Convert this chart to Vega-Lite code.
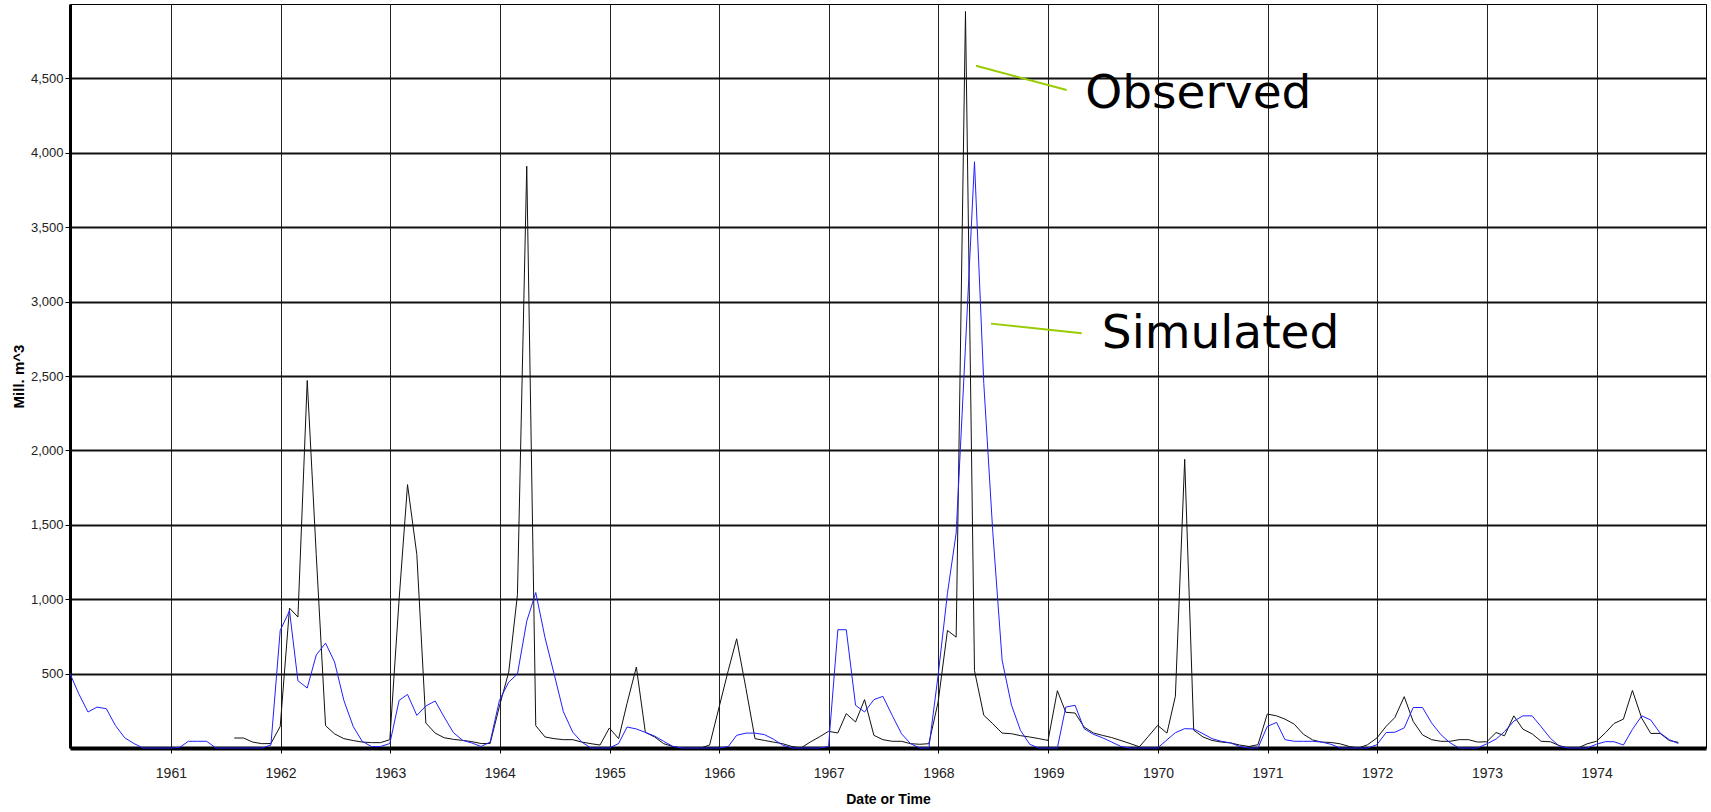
{
  "$schema": "https://vega.github.io/schema/vega-lite/v6.json",
  "width": 1636,
  "height": 744,
  "autosize": {"type": "none"},
  "padding": {"left": 70, "top": 4, "right": 5, "bottom": 64},
  "background": "white",
  "config": {
    "view": {"stroke": "#000", "strokeWidth": 1},
    "font": "Liberation Sans"
  },
  "layer": [
    {
      "data": {
        "values": [
          {"date": "1960-01-31", "Observed": null, "Simulated": 500},
          {"date": "1960-02-29", "Observed": null, "Simulated": 365},
          {"date": "1960-03-31", "Observed": null, "Simulated": 242},
          {"date": "1960-04-30", "Observed": null, "Simulated": 275},
          {"date": "1960-05-31", "Observed": null, "Simulated": 264},
          {"date": "1960-06-30", "Observed": null, "Simulated": 152},
          {"date": "1960-07-31", "Observed": null, "Simulated": 69},
          {"date": "1960-08-31", "Observed": null, "Simulated": 30},
          {"date": "1960-09-30", "Observed": null, "Simulated": 0},
          {"date": "1960-10-31", "Observed": null, "Simulated": 0},
          {"date": "1960-11-30", "Observed": null, "Simulated": 0},
          {"date": "1960-12-31", "Observed": null, "Simulated": 0},
          {"date": "1961-01-31", "Observed": null, "Simulated": 5},
          {"date": "1961-02-28", "Observed": null, "Simulated": 45},
          {"date": "1961-03-31", "Observed": null, "Simulated": 45},
          {"date": "1961-04-30", "Observed": null, "Simulated": 45},
          {"date": "1961-05-31", "Observed": null, "Simulated": 0},
          {"date": "1961-06-30", "Observed": null, "Simulated": 0},
          {"date": "1961-07-31", "Observed": 67, "Simulated": 0},
          {"date": "1961-08-31", "Observed": 67, "Simulated": 0},
          {"date": "1961-09-30", "Observed": 40, "Simulated": 0},
          {"date": "1961-10-31", "Observed": 29, "Simulated": 0},
          {"date": "1961-11-30", "Observed": 30, "Simulated": 20},
          {"date": "1961-12-31", "Observed": 145, "Simulated": 790},
          {"date": "1962-01-31", "Observed": 940, "Simulated": 922},
          {"date": "1962-02-28", "Observed": 880, "Simulated": 452},
          {"date": "1962-03-31", "Observed": 2470, "Simulated": 403},
          {"date": "1962-04-30", "Observed": 1300, "Simulated": 625},
          {"date": "1962-05-31", "Observed": 150, "Simulated": 705},
          {"date": "1962-06-30", "Observed": 95, "Simulated": 578},
          {"date": "1962-07-31", "Observed": 63, "Simulated": 320},
          {"date": "1962-08-31", "Observed": 50, "Simulated": 145},
          {"date": "1962-09-30", "Observed": 40, "Simulated": 45},
          {"date": "1962-10-31", "Observed": 36, "Simulated": 10},
          {"date": "1962-11-30", "Observed": 36, "Simulated": 10},
          {"date": "1962-12-31", "Observed": 56, "Simulated": 30},
          {"date": "1963-01-31", "Observed": 1000, "Simulated": 320},
          {"date": "1963-02-28", "Observed": 1770, "Simulated": 360},
          {"date": "1963-03-31", "Observed": 1300, "Simulated": 219},
          {"date": "1963-04-30", "Observed": 168, "Simulated": 282},
          {"date": "1963-05-31", "Observed": 100, "Simulated": 316},
          {"date": "1963-06-30", "Observed": 69, "Simulated": 208},
          {"date": "1963-07-31", "Observed": 58, "Simulated": 103},
          {"date": "1963-08-31", "Observed": 51, "Simulated": 51},
          {"date": "1963-09-30", "Observed": 43, "Simulated": 34},
          {"date": "1963-10-31", "Observed": 30, "Simulated": 10},
          {"date": "1963-11-30", "Observed": 30, "Simulated": 40},
          {"date": "1963-12-31", "Observed": 280, "Simulated": 320},
          {"date": "1964-01-31", "Observed": 510, "Simulated": 443},
          {"date": "1964-02-29", "Observed": 1030, "Simulated": 497},
          {"date": "1964-03-31", "Observed": 3910, "Simulated": 852},
          {"date": "1964-04-30", "Observed": 150, "Simulated": 1045},
          {"date": "1964-05-31", "Observed": 74, "Simulated": 740},
          {"date": "1964-06-30", "Observed": 63, "Simulated": 499},
          {"date": "1964-07-31", "Observed": 56, "Simulated": 244},
          {"date": "1964-08-31", "Observed": 56, "Simulated": 107},
          {"date": "1964-09-30", "Observed": 40, "Simulated": 40},
          {"date": "1964-10-31", "Observed": 29, "Simulated": 0},
          {"date": "1964-11-30", "Observed": 20, "Simulated": 0},
          {"date": "1964-12-31", "Observed": 134, "Simulated": 0},
          {"date": "1965-01-31", "Observed": 63, "Simulated": 30},
          {"date": "1965-02-28", "Observed": 300, "Simulated": 141},
          {"date": "1965-03-31", "Observed": 544, "Simulated": 128},
          {"date": "1965-04-30", "Observed": 105, "Simulated": 105},
          {"date": "1965-05-31", "Observed": 74, "Simulated": 80},
          {"date": "1965-06-30", "Observed": 29, "Simulated": 45},
          {"date": "1965-07-31", "Observed": 10, "Simulated": 10},
          {"date": "1965-08-31", "Observed": 0, "Simulated": 0},
          {"date": "1965-09-30", "Observed": 0, "Simulated": 0},
          {"date": "1965-10-31", "Observed": 0, "Simulated": 0},
          {"date": "1965-11-30", "Observed": 20, "Simulated": 0},
          {"date": "1965-12-31", "Observed": 270, "Simulated": 0},
          {"date": "1966-01-31", "Observed": 520, "Simulated": 10},
          {"date": "1966-02-28", "Observed": 734, "Simulated": 85},
          {"date": "1966-03-31", "Observed": 400, "Simulated": 100},
          {"date": "1966-04-30", "Observed": 63, "Simulated": 100},
          {"date": "1966-05-31", "Observed": 51, "Simulated": 90},
          {"date": "1966-06-30", "Observed": 40, "Simulated": 60},
          {"date": "1966-07-31", "Observed": 29, "Simulated": 20},
          {"date": "1966-08-31", "Observed": 10, "Simulated": 0},
          {"date": "1966-09-30", "Observed": 0, "Simulated": 0},
          {"date": "1966-10-31", "Observed": 40, "Simulated": 0},
          {"date": "1966-11-30", "Observed": 74, "Simulated": 0},
          {"date": "1966-12-31", "Observed": 112, "Simulated": 10},
          {"date": "1967-01-31", "Observed": 101, "Simulated": 795},
          {"date": "1967-02-28", "Observed": 231, "Simulated": 795},
          {"date": "1967-03-31", "Observed": 175, "Simulated": 287},
          {"date": "1967-04-30", "Observed": 325, "Simulated": 242},
          {"date": "1967-05-31", "Observed": 85, "Simulated": 325},
          {"date": "1967-06-30", "Observed": 56, "Simulated": 347},
          {"date": "1967-07-31", "Observed": 45, "Simulated": 219},
          {"date": "1967-08-31", "Observed": 45, "Simulated": 96},
          {"date": "1967-09-30", "Observed": 29, "Simulated": 29},
          {"date": "1967-10-31", "Observed": 25, "Simulated": 0},
          {"date": "1967-11-30", "Observed": 29, "Simulated": 0},
          {"date": "1967-12-31", "Observed": 310, "Simulated": 490},
          {"date": "1968-01-31", "Observed": 790, "Simulated": 1040},
          {"date": "1968-02-29", "Observed": 745, "Simulated": 1445},
          {"date": "1968-03-31", "Observed": 4950, "Simulated": 2700},
          {"date": "1968-04-30", "Observed": 520, "Simulated": 3940},
          {"date": "1968-05-31", "Observed": 220, "Simulated": 2450},
          {"date": "1968-06-30", "Observed": 163, "Simulated": 1450},
          {"date": "1968-07-31", "Observed": 100, "Simulated": 590},
          {"date": "1968-08-31", "Observed": 96, "Simulated": 290},
          {"date": "1968-09-30", "Observed": 83, "Simulated": 119},
          {"date": "1968-10-31", "Observed": 74, "Simulated": 25},
          {"date": "1968-11-30", "Observed": 63, "Simulated": 0},
          {"date": "1968-12-31", "Observed": 51, "Simulated": 0},
          {"date": "1969-01-31", "Observed": 385, "Simulated": 0},
          {"date": "1969-02-28", "Observed": 240, "Simulated": 275},
          {"date": "1969-03-31", "Observed": 235, "Simulated": 287},
          {"date": "1969-04-30", "Observed": 141, "Simulated": 130},
          {"date": "1969-05-31", "Observed": 101, "Simulated": 92},
          {"date": "1969-06-30", "Observed": 85, "Simulated": 69},
          {"date": "1969-07-31", "Observed": 70, "Simulated": 40},
          {"date": "1969-08-31", "Observed": 50, "Simulated": 10},
          {"date": "1969-09-30", "Observed": 30, "Simulated": 0},
          {"date": "1969-10-31", "Observed": 8, "Simulated": 0},
          {"date": "1969-11-30", "Observed": 78, "Simulated": 0},
          {"date": "1969-12-31", "Observed": 152, "Simulated": 0},
          {"date": "1970-01-31", "Observed": 100, "Simulated": 55},
          {"date": "1970-02-28", "Observed": 348, "Simulated": 103},
          {"date": "1970-03-31", "Observed": 1940, "Simulated": 130},
          {"date": "1970-04-30", "Observed": 120, "Simulated": 128},
          {"date": "1970-05-31", "Observed": 74, "Simulated": 96},
          {"date": "1970-06-30", "Observed": 51, "Simulated": 63},
          {"date": "1970-07-31", "Observed": 40, "Simulated": 45},
          {"date": "1970-08-31", "Observed": 34, "Simulated": 34},
          {"date": "1970-09-30", "Observed": 20, "Simulated": 10},
          {"date": "1970-10-31", "Observed": 10, "Simulated": 0},
          {"date": "1970-11-30", "Observed": 22, "Simulated": 0},
          {"date": "1970-12-31", "Observed": 228, "Simulated": 145},
          {"date": "1971-01-31", "Observed": 216, "Simulated": 172},
          {"date": "1971-02-28", "Observed": 194, "Simulated": 56},
          {"date": "1971-03-31", "Observed": 160, "Simulated": 45},
          {"date": "1971-04-30", "Observed": 93, "Simulated": 45},
          {"date": "1971-05-31", "Observed": 54, "Simulated": 45},
          {"date": "1971-06-30", "Observed": 40, "Simulated": 40},
          {"date": "1971-07-31", "Observed": 37, "Simulated": 25},
          {"date": "1971-08-31", "Observed": 28, "Simulated": 0},
          {"date": "1971-09-30", "Observed": 10, "Simulated": 0},
          {"date": "1971-10-31", "Observed": 0, "Simulated": 0},
          {"date": "1971-11-30", "Observed": 22, "Simulated": 0},
          {"date": "1971-12-31", "Observed": 67, "Simulated": 22},
          {"date": "1972-01-31", "Observed": 146, "Simulated": 104},
          {"date": "1972-02-29", "Observed": 205, "Simulated": 106},
          {"date": "1972-03-31", "Observed": 345, "Simulated": 135},
          {"date": "1972-04-30", "Observed": 178, "Simulated": 272},
          {"date": "1972-05-31", "Observed": 88, "Simulated": 272},
          {"date": "1972-06-30", "Observed": 56, "Simulated": 169},
          {"date": "1972-07-31", "Observed": 45, "Simulated": 90},
          {"date": "1972-08-31", "Observed": 45, "Simulated": 34},
          {"date": "1972-09-30", "Observed": 56, "Simulated": 0},
          {"date": "1972-10-31", "Observed": 56, "Simulated": 0},
          {"date": "1972-11-30", "Observed": 40, "Simulated": 0},
          {"date": "1972-12-31", "Observed": 42, "Simulated": 28},
          {"date": "1973-01-31", "Observed": 104, "Simulated": 60},
          {"date": "1973-02-28", "Observed": 82, "Simulated": 110},
          {"date": "1973-03-31", "Observed": 216, "Simulated": 180},
          {"date": "1973-04-30", "Observed": 127, "Simulated": 216},
          {"date": "1973-05-31", "Observed": 95, "Simulated": 216},
          {"date": "1973-06-30", "Observed": 45, "Simulated": 143},
          {"date": "1973-07-31", "Observed": 42, "Simulated": 65},
          {"date": "1973-08-31", "Observed": 15, "Simulated": 10},
          {"date": "1973-09-30", "Observed": 0, "Simulated": 0},
          {"date": "1973-10-31", "Observed": 0, "Simulated": 0},
          {"date": "1973-11-30", "Observed": 28, "Simulated": 0},
          {"date": "1973-12-31", "Observed": 45, "Simulated": 25},
          {"date": "1974-01-31", "Observed": 104, "Simulated": 43},
          {"date": "1974-02-28", "Observed": 165, "Simulated": 42},
          {"date": "1974-03-31", "Observed": 194, "Simulated": 20},
          {"date": "1974-04-30", "Observed": 387, "Simulated": 125},
          {"date": "1974-05-31", "Observed": 200, "Simulated": 216},
          {"date": "1974-06-30", "Observed": 98, "Simulated": 188},
          {"date": "1974-07-31", "Observed": 98, "Simulated": 101},
          {"date": "1974-08-31", "Observed": 50, "Simulated": 56},
          {"date": "1974-09-30", "Observed": 38, "Simulated": 30},
          {"date": "1974-10-31", "Observed": null, "Simulated": null},
          {"date": "1974-11-30", "Observed": null, "Simulated": null},
          {"date": "1974-12-31", "Observed": null, "Simulated": null}
        ]
      },
      "transform": [{"fold": ["Observed", "Simulated"], "as": ["series", "value"]}],
      "mark": {"type": "line", "strokeWidth": 1, "invalid": "break-paths-show-domains"},
      "encoding": {
        "x": {
          "field": "date",
          "type": "temporal",
          "scale": {
            "type": "utc",
            "domain": [
              {"year": 1960, "month": 1, "date": 31, "utc": true},
              {"year": 1974, "month": 12, "date": 31, "utc": true}
            ]
          },
          "axis": {
            "title": "Date or Time",
            "values": [
              {"year": 1961, "month": 1, "date": 1, "utc": true},
              {"year": 1962, "month": 1, "date": 1, "utc": true},
              {"year": 1963, "month": 1, "date": 1, "utc": true},
              {"year": 1964, "month": 1, "date": 1, "utc": true},
              {"year": 1965, "month": 1, "date": 1, "utc": true},
              {"year": 1966, "month": 1, "date": 1, "utc": true},
              {"year": 1967, "month": 1, "date": 1, "utc": true},
              {"year": 1968, "month": 1, "date": 1, "utc": true},
              {"year": 1969, "month": 1, "date": 1, "utc": true},
              {"year": 1970, "month": 1, "date": 1, "utc": true},
              {"year": 1971, "month": 1, "date": 1, "utc": true},
              {"year": 1972, "month": 1, "date": 1, "utc": true},
              {"year": 1973, "month": 1, "date": 1, "utc": true},
              {"year": 1974, "month": 1, "date": 1, "utc": true}
            ],
            "format": "%Y",
            "formatType": "utc",
            "labelFont": "Liberation Sans",
            "labelFontSize": 14,
            "labelColor": "#222",
            "labelPadding": 13,
            "tickSize": 5,
            "tickColor": "#000",
            "grid": true,
            "gridColor": "#222",
            "gridWidth": 1,
            "domainColor": "#000",
            "domainWidth": 4,
            "titleFont": "Liberation Sans",
            "titleFontWeight": "bold",
            "titleFontSize": 14,
            "titleColor": "#000",
            "titlePadding": 12
          }
        },
        "y": {
          "field": "value",
          "type": "quantitative",
          "scale": {"domain": [0, 5000], "nice": false},
          "axis": {
            "title": "Mill. m^3",
            "values": [500, 1000, 1500, 2000, 2500, 3000, 3500, 4000, 4500],
            "format": ",d",
            "labelFont": "Liberation Sans",
            "labelFontSize": 13,
            "labelColor": "#222",
            "labelPadding": 2,
            "tickSize": 5,
            "tickColor": "#000",
            "grid": true,
            "gridColor": "#111",
            "gridWidth": 2,
            "domainColor": "#000",
            "domainWidth": 3,
            "titleFont": "Liberation Sans",
            "titleFontWeight": "bold",
            "titleFontSize": 15,
            "titleColor": "#000",
            "titlePadding": 4
          }
        },
        "color": {
          "field": "series",
          "type": "nominal",
          "scale": {"domain": ["Observed", "Simulated"], "range": ["#111111", "#2020ff"]},
          "legend": null
        }
      }
    },
    {
      "data": {
        "values": [
          {"date": "1968-05-05", "value": 4585, "date2": "1969-03-03", "value2": 4422},
          {"date": "1968-06-24", "value": 2852, "date2": "1969-04-22", "value2": 2787}
        ]
      },
      "mark": {"type": "rule", "color": "#99cc00", "strokeWidth": 2},
      "encoding": {
        "x": {"field": "date", "type": "temporal"},
        "y": {"field": "value", "type": "quantitative"},
        "x2": {"field": "date2"},
        "y2": {"field": "value2"}
      }
    },
    {
      "data": {
        "values": [
          {"date": "1969-05-04", "value": 4395, "label": "Observed"},
          {"date": "1969-06-28", "value": 2782, "label": "Simulated"}
        ]
      },
      "mark": {"type": "text", "align": "left", "baseline": "middle", "font": "DejaVu Sans", "fontSize": 47, "color": "#000"},
      "encoding": {
        "x": {"field": "date", "type": "temporal"},
        "y": {"field": "value", "type": "quantitative"},
        "text": {"field": "label"}
      }
    }
  ]
}
